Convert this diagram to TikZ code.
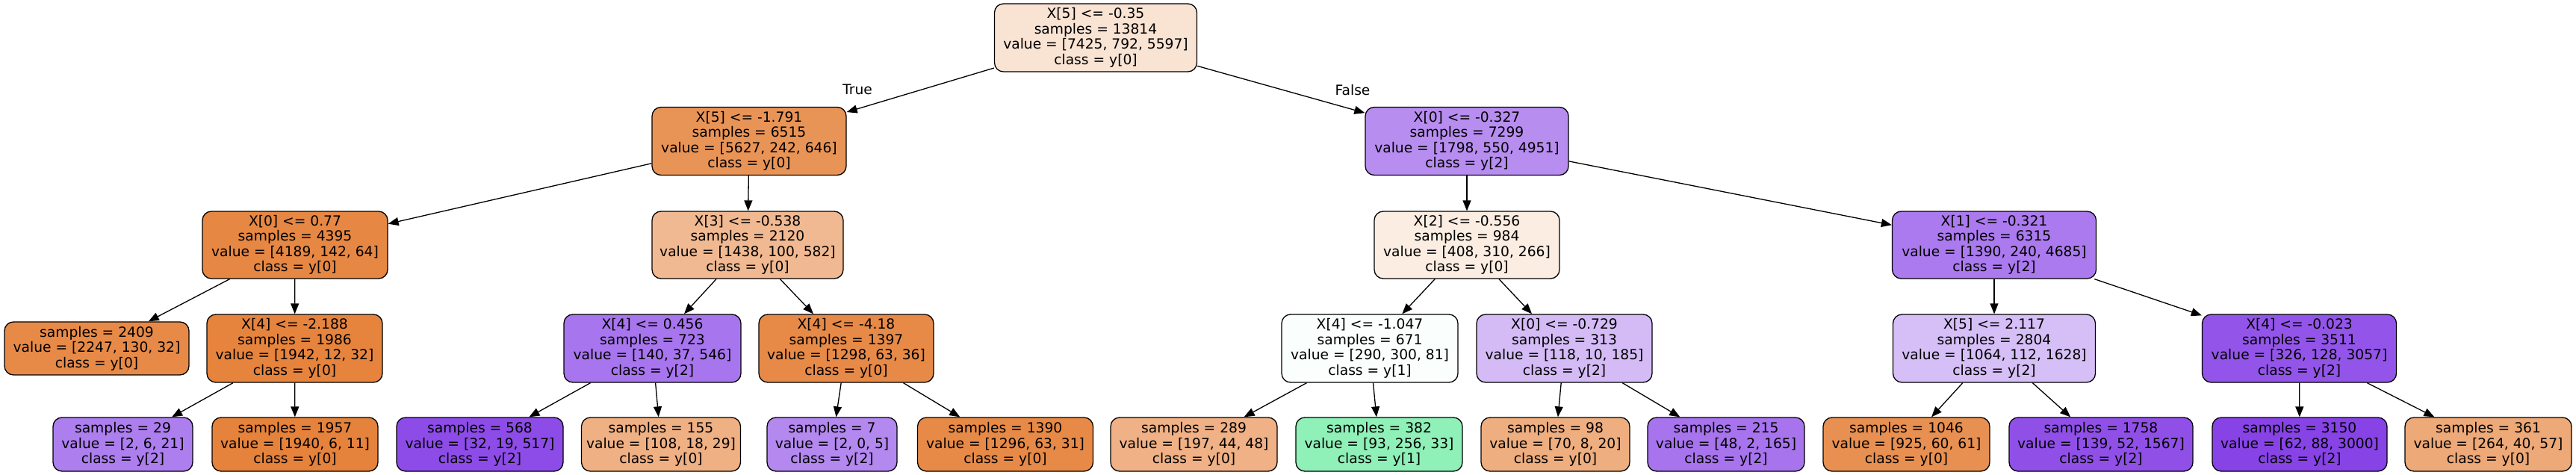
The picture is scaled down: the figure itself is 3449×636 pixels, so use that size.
\documentclass[tikz,border=0pt]{standalone}
\usepackage{fontspec}
\setmainfont{DejaVu Sans}
\usetikzlibrary{arrows.meta}
\definecolor{c0}{RGB}{249,227,211}
\definecolor{c1}{RGB}{233,148,87}
\definecolor{c2}{RGB}{183,141,240}
\definecolor{c3}{RGB}{230,135,67}
\definecolor{c4}{RGB}{241,185,145}
\definecolor{c5}{RGB}{251,237,226}
\definecolor{c6}{RGB}{171,122,238}
\definecolor{c7}{RGB}{231,138,71}
\definecolor{c8}{RGB}{230,132,62}
\definecolor{c9}{RGB}{167,117,237}
\definecolor{c10}{RGB}{231,138,72}
\definecolor{c11}{RGB}{250,254,252}
\definecolor{c12}{RGB}{212,187,246}
\definecolor{c13}{RGB}{214,191,247}
\definecolor{c14}{RGB}{147,85,233}
\definecolor{c15}{RGB}{173,126,238}
\definecolor{c16}{RGB}{229,130,59}
\definecolor{c17}{RGB}{141,76,231}
\definecolor{c18}{RGB}{239,176,131}
\definecolor{c19}{RGB}{179,136,239}
\definecolor{c20}{RGB}{231,138,71}
\definecolor{c21}{RGB}{239,177,133}
\definecolor{c22}{RGB}{143,240,184}
\definecolor{c23}{RGB}{238,174,128}
\definecolor{c24}{RGB}{167,116,237}
\definecolor{c25}{RGB}{232,144,81}
\definecolor{c26}{RGB}{144,80,232}
\definecolor{c27}{RGB}{135,67,230}
\definecolor{c28}{RGB}{237,169,120}
\tikzset{
  tnode/.style={draw=black, line width=1.3pt, rounded corners=12pt, inner sep=0pt,
    align=center, font=\fontsize{18.67}{20.5}\selectfont, minimum height=91pt},
  leafnode/.style={tnode, minimum height=72pt},
  conn/.style={line width=1.3pt, -{Triangle[length=14pt,width=11pt]}},
  elabel/.style={font=\fontsize{18.67}{20.5}\selectfont, inner sep=0pt}
}
\begin{document}
\begin{tikzpicture}[x=1pt,y=-1pt]
\useasboundingbox (0,0) rectangle (3449,636);
% level 0
\node[tnode, minimum width=271pt, fill=c0] (n0) at (1467,50.5) {X[5] <= -0.35\\samples = 13814\\value = [7425, 792, 5597]\\class = y[0]};
% level 1
\node[tnode, minimum width=260pt, fill=c1] (n1) at (1003,189) {X[5] <= -1.791\\samples = 6515\\value = [5627, 242, 646]\\class = y[0]};
\node[tnode, minimum width=272pt, fill=c2] (n2) at (1964,189) {X[0] <= -0.327\\samples = 7299\\value = [1798, 550, 4951]\\class = y[2]};
% level 2
\node[tnode, minimum width=248pt, minimum height=90pt, fill=c3] (n3) at (395,328) {X[0] <= 0.77\\samples = 4395\\value = [4189, 142, 64]\\class = y[0]};
\node[tnode, minimum width=256pt, minimum height=90pt, fill=c4] (n4) at (1001,328) {X[3] <= -0.538\\samples = 2120\\value = [1438, 100, 582]\\class = y[0]};
\node[tnode, minimum width=248pt, minimum height=90pt, fill=c5] (n5) at (1964,328) {X[2] <= -0.556\\samples = 984\\value = [408, 310, 266]\\class = y[0]};
\node[tnode, minimum width=273pt, minimum height=90pt, fill=c6] (n6) at (2670,328) {X[1] <= -0.321\\samples = 6315\\value = [1390, 240, 4685]\\class = y[2]};
% level 3
\node[leafnode, minimum width=247pt, minimum height=71pt, fill=c7] (n7) at (129.5,466.5) {samples = 2409\\value = [2247, 130, 32]\\class = y[0]};
\node[tnode, minimum width=235pt, fill=c8] (n8) at (394.5,466.5) {X[4] <= -2.188\\samples = 1986\\value = [1942, 12, 32]\\class = y[0]};
\node[tnode, minimum width=237pt, fill=c9] (n9) at (873.5,466.5) {X[4] <= 0.456\\samples = 723\\value = [140, 37, 546]\\class = y[2]};
\node[tnode, minimum width=234pt, fill=c10] (n10) at (1133,466.5) {X[4] <= -4.18\\samples = 1397\\value = [1298, 63, 36]\\class = y[0]};
\node[tnode, minimum width=236pt, fill=c11] (n11) at (1834,466.5) {X[4] <= -1.047\\samples = 671\\value = [290, 300, 81]\\class = y[1]};
\node[tnode, minimum width=235pt, fill=c12] (n12) at (2094.5,466.5) {X[0] <= -0.729\\samples = 313\\value = [118, 10, 185]\\class = y[2]};
\node[tnode, minimum width=271pt, fill=c13] (n13) at (2670,466.5) {X[5] <= 2.117\\samples = 2804\\value = [1064, 112, 1628]\\class = y[2]};
\node[tnode, minimum width=260pt, fill=c14] (n14) at (3078.5,466.5) {X[4] <= -0.023\\samples = 3511\\value = [326, 128, 3057]\\class = y[2]};
% level 4
\node[leafnode, minimum width=187pt, fill=c15] (n15) at (164.5,595) {samples = 29\\value = [2, 6, 21]\\class = y[2]};
\node[leafnode, minimum width=222pt, fill=c16] (n16) at (395,595) {samples = 1957\\value = [1940, 6, 11]\\class = y[0]};
\node[leafnode, minimum width=223pt, fill=c17] (n17) at (642.5,595) {samples = 568\\value = [32, 19, 517]\\class = y[2]};
\node[leafnode, minimum width=213pt, fill=c18] (n18) at (885,595) {samples = 155\\value = [108, 18, 29]\\class = y[0]};
\node[leafnode, minimum width=174pt, fill=c19] (n19) at (1114,595) {samples = 7\\value = [2, 0, 5]\\class = y[2]};
\node[leafnode, minimum width=235pt, fill=c20] (n20) at (1346,595) {samples = 1390\\value = [1296, 63, 31]\\class = y[0]};
\node[leafnode, minimum width=223pt, fill=c21] (n21) at (1598.5,595) {samples = 289\\value = [197, 44, 48]\\class = y[0]};
\node[leafnode, minimum width=223pt, fill=c22] (n22) at (1846.5,595) {samples = 382\\value = [93, 256, 33]\\class = y[1]};
\node[leafnode, minimum width=199pt, fill=c23] (n23) at (2082.5,595) {samples = 98\\value = [70, 8, 20]\\class = y[0]};
\node[leafnode, minimum width=210pt, fill=c24] (n24) at (2311,595) {samples = 215\\value = [48, 2, 165]\\class = y[2]};
\node[leafnode, minimum width=223pt, fill=c25] (n25) at (2552.5,595) {samples = 1046\\value = [925, 60, 61]\\class = y[0]};
\node[leafnode, minimum width=246pt, fill=c26] (n26) at (2813,595) {samples = 1758\\value = [139, 52, 1567]\\class = y[2]};
\node[leafnode, minimum width=234pt, fill=c27] (n27) at (3079,595) {samples = 3150\\value = [62, 88, 3000]\\class = y[2]};
\node[leafnode, minimum width=223pt, fill=c28] (n28) at (3331.5,595) {samples = 361\\value = [264, 40, 57]\\class = y[0]};
% edge labels
\node[elabel] (lt) at (1148,120) {True};
\node[elabel] (lf) at (1811,121) {False};
% edges
\foreach \a/\b in {n0/n1,n0/n2,n1/n3,n1/n4,n2/n5,n2/n6,n3/n7,n3/n8,n4/n9,n4/n10,n5/n11,n5/n12,n6/n13,n6/n14,n8/n15,n8/n16,n9/n17,n9/n18,n10/n19,n10/n20,n11/n21,n11/n22,n12/n23,n12/n24,n13/n25,n13/n26,n14/n27,n14/n28}
  \draw[conn] (\a) -- (\b);
\end{tikzpicture}
\end{document}
